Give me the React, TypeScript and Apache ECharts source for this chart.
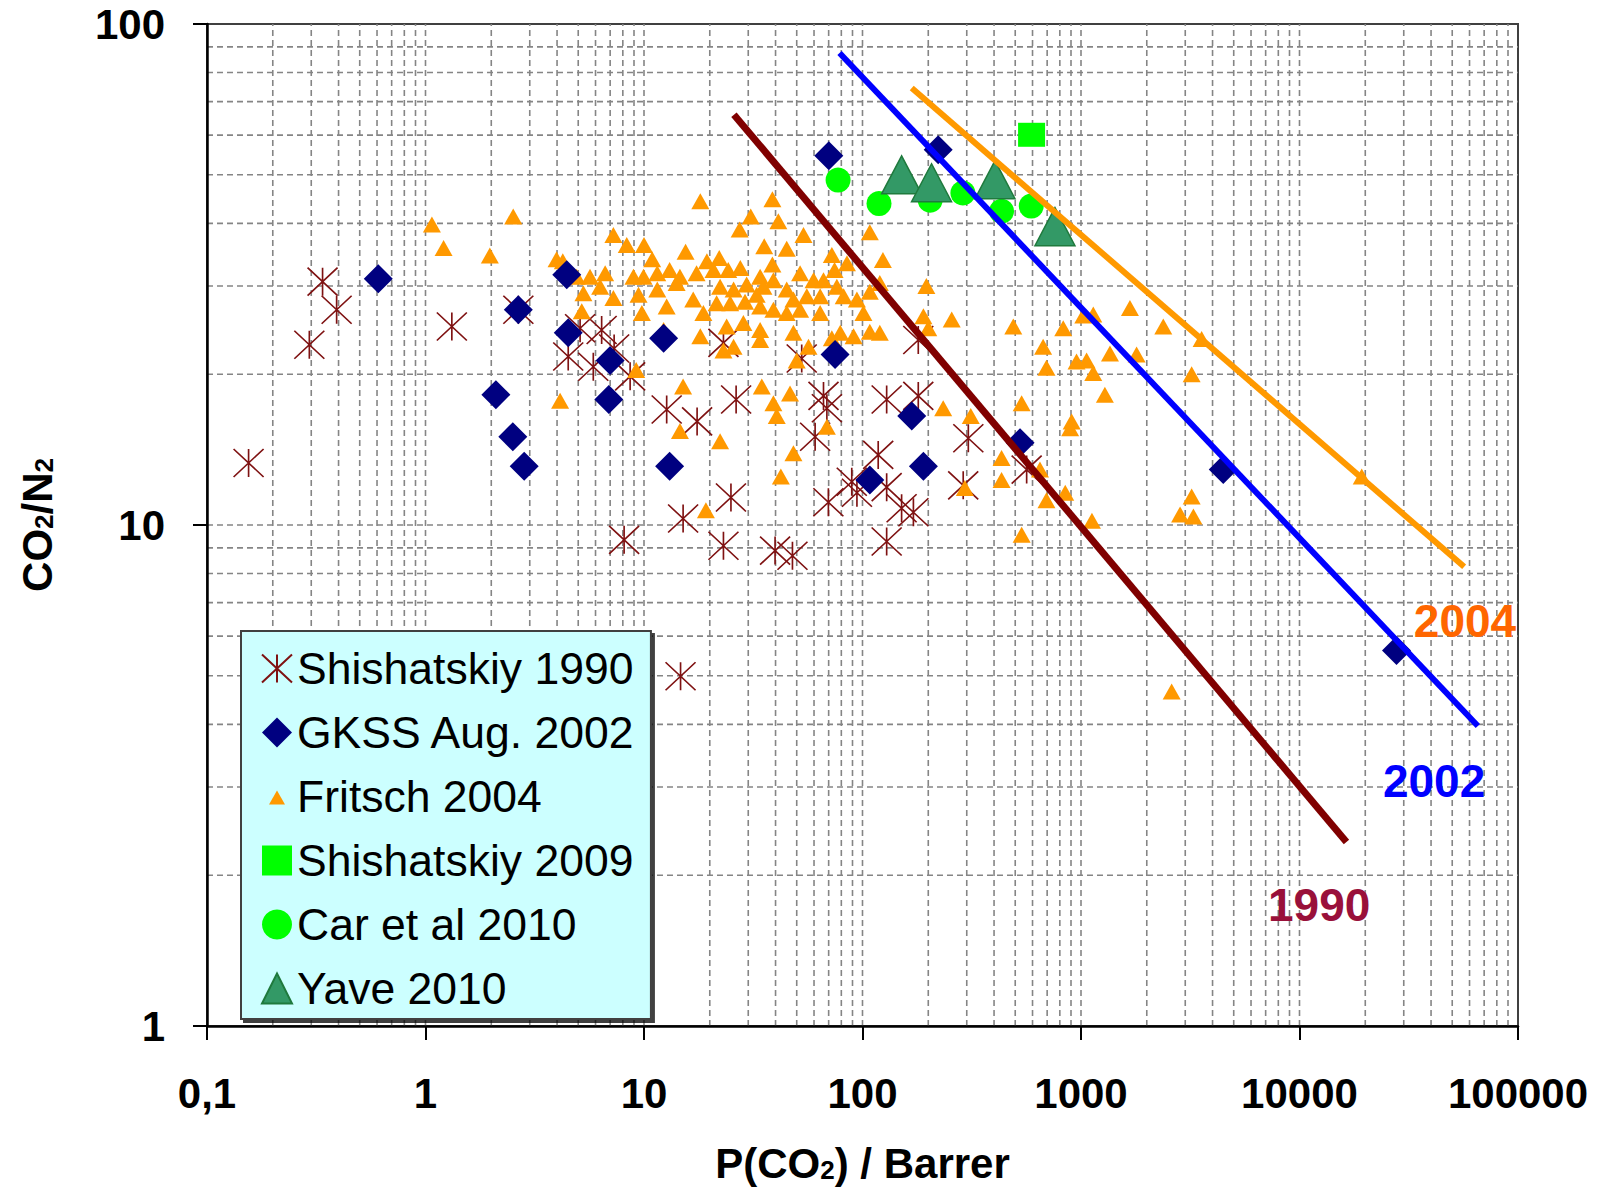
import React, { useEffect, useRef } from "react";
import * as echarts from "echarts";

// P(CO2) in Barrer vs. CO2/N2 selectivity
const shishatskiy1990: [number, number][] = [
  [0.155, 13.3], [0.338, 30.6], [0.392, 26.9], [0.294, 22.9], [1.32, 24.9], [2.66, 26.9],
  [4.5, 21.7], [5.1, 24.7], [6.4, 24.5], [5.86, 20.7], [7.3, 22.5], [8.64, 19.8],
  [12.7, 17.0], [17.5, 16.1], [26.4, 17.8], [23.1, 23.1], [52.7, 21.5], [66.3, 18.1],
  [68.7, 17.1], [60.7, 15.0], [129, 17.8], [118, 13.8], [89.3, 12.2], [94.3, 11.6],
  [69.8, 11.1], [8.11, 9.34], [15.1, 10.3], [25.0, 11.35], [23.1, 9.09], [39.8, 8.89],
  [47.8, 8.68], [14.7, 4.99], [305, 14.9], [289, 12.0], [564, 12.9], [180, 18.1],
  [151, 10.8], [171, 10.6], [129, 9.27], [180, 23.4], [129, 11.9],
];

const gkss2002: [number, number][] = [
  [0.608, 31.0], [2.66, 26.9], [4.5, 24.2], [4.43, 31.6], [2.1, 18.2], [2.51, 15.0],
  [2.83, 13.1], [7.0, 21.3], [6.9, 17.8], [12.3, 23.6], [13.1, 13.1], [74.9, 21.9],
  [70.1, 54.6], [222, 56.1], [168, 16.5], [190, 13.1], [108, 12.3], [526, 14.6],
  [4477, 12.9], [27800, 5.62],
];

const fritsch2004: [number, number][] = [
  [1.07, 39.8], [1.21, 35.7], [2.52, 41.3], [1.97, 34.5], [3.98, 33.9], [4.13, 17.7],
  [18.1, 44.3], [38.7, 44.7], [30.8, 41.3], [41.2, 40.4], [27.4, 38.9], [53.7, 37.9],
  [7.24, 37.9], [8.34, 36.2], [10.0, 36.2], [15.5, 35.1], [35.5, 36.0], [45.0, 35.6],
  [108, 38.4], [72.4, 34.6], [124, 33.8], [10.9, 33.9], [19.4, 33.6], [22.1, 34.1],
  [38.7, 33.1], [74.5, 32.3], [84.9, 33.3], [4.25, 33.6], [4.92, 31.3], [5.66, 31.3],
  [6.64, 31.8], [6.3, 29.9], [8.95, 31.3], [9.95, 31.3], [11.5, 31.8], [13.1, 32.3],
  [14.6, 31.3], [17.4, 31.8], [20.8, 32.3], [24.3, 32.3], [27.6, 32.6], [34.0, 31.3],
  [39.1, 30.8], [51.8, 31.8], [59.7, 30.8], [66.3, 30.8], [76.3, 29.9], [5.28, 29.0],
  [7.24, 28.4], [9.44, 28.8], [11.5, 29.5], [14.1, 30.4], [22.3, 29.9], [25.7, 29.5],
  [29.5, 30.2], [32.8, 28.8], [35.2, 29.9], [45.0, 29.5], [48.3, 28.2], [55.6, 28.6],
  [64.0, 28.6], [82.0, 28.6], [94.3, 28.2], [108, 29.2], [120, 30.4], [5.19, 26.7],
  [9.78, 26.5], [12.7, 27.3], [16.8, 28.2], [18.7, 26.5], [21.5, 27.7], [24.8, 27.7],
  [29.0, 27.9], [34.0, 27.3], [39.1, 26.9], [45.0, 26.5], [51.8, 26.9], [64.0, 26.5],
  [101, 26.5], [23.9, 24.9], [28.5, 25.3], [34.0, 24.5], [48.3, 24.2], [79.1, 24.2],
  [91.0, 23.8], [108, 24.3], [120, 24.2], [12.3, 24.5], [18.1, 23.8], [34.0, 23.4],
  [25.7, 22.7], [23.1, 22.3], [56.6, 22.7], [72.4, 23.6], [50.0, 21.3], [9.21, 20.4],
  [15.1, 18.9], [34.6, 18.9], [46.6, 18.3], [39.1, 17.5], [40.5, 16.5], [68.7, 15.7],
  [14.6, 15.4], [22.3, 14.7], [48.3, 13.9], [42.3, 12.5], [19.2, 10.7],
  [196, 30.0], [190, 26.1], [200, 24.7], [256, 25.7], [490, 24.9], [829, 24.7],
  [1024, 26.2], [1138, 26.3], [1675, 27.1], [2380, 24.9], [3564, 23.5], [671, 22.7],
  [695, 20.6], [954, 21.2], [1061, 21.3], [1138, 20.1], [1357, 22.0], [1797, 21.9],
  [3209, 20.0], [1286, 18.2], [234, 17.1], [313, 16.5], [535, 17.5], [906, 16.1],
  [892, 15.6], [433, 13.6], [433, 12.3], [294, 11.86], [649, 12.9], [695, 11.2],
  [847, 11.6], [1122, 10.2], [535, 9.56], [3209, 11.4], [2841, 10.5], [3270, 10.4],
  [19260, 12.5], [2600, 4.65],
];

const shishatskiy2009: [number, number][] = [[594, 60.1]];

const car2010: [number, number][] = [
  [77.3, 48.8], [119, 43.8], [204, 44.5], [288, 46.0], [433, 42.3], [592, 43.3],
];

const yave2010: [number, number][] = [
  [151, 50.0], [207, 48.2], [404, 48.9], [760, 39.4],
];

// Upper bound lines (end points)
const bound1990: [number, number][] = [[25.8, 65.9], [16400, 2.33]];
const bound2002: [number, number][] = [[78.5, 87.5], [65500, 3.97]];
const bound2004: [number, number][] = [[168, 74.5], [56700, 8.25]];

// Where each bound's year is written (data coordinates)
const label1990: [number, number] = [12300, 1.74];
const label2002: [number, number] = [41300, 3.09];
const label2004: [number, number] = [57200, 6.44];

const X_MIN = 0.1;
const X_MAX = 100000;
const Y_MIN = 1;
const Y_MAX = 100;

const FONT = "'Liberation Sans', Arial, sans-serif";

// Dashed log grid: every 1..9 multiple of each decade, inside the frame
function logGridValues(min: number, max: number): number[] {
  const out: number[] = [];
  const e0 = Math.round(Math.log10(min));
  const e1 = Math.round(Math.log10(max));
  for (let e = e0; e < e1; e++) {
    for (let m = 1; m <= 9; m++) {
      if (e === e0 && m === 1) continue;
      out.push(Number((m * Math.pow(10, e)).toPrecision(6)));
    }
  }
  return out;
}

const ASTERISK = "path://M0 0L30 28M30 0L0 28M15 0L15 28";
const SMALL_TRIANGLE_ICON = "path://M0 0M30 30M7 23L23 23L15 9Z";

function boundLine(name: string, data: [number, number][], color: string, width: number, at: [number, number], labelColor: string) {
  return {
    name,
    type: "line",
    data,
    z: 5,
    symbol: "none",
    silent: true,
    lineStyle: { color, width, cap: "butt" },
    markPoint: {
      symbol: "rect",
      symbolSize: 1,
      silent: true,
      itemStyle: { color: "rgba(0,0,0,0)" },
      label: {
        show: true,
        position: "inside",
        formatter: name,
        fontSize: 46,
        fontWeight: "bold",
        fontFamily: FONT,
        color: labelColor,
      },
      data: [{ coord: at }],
    },
  };
}

const subStyle = {
  fontSize: 26,
  fontWeight: "bold",
  fontFamily: FONT,
  color: "#000",
  verticalAlign: "bottom",
  lineHeight: 40,
};

export default function App() {
  const ref = useRef<HTMLDivElement>(null);

  useEffect(() => {
    if (!ref.current) return;
    const chart = echarts.init(ref.current, null, { renderer: "svg" });

    const gridData: number[][] = [
      ...logGridValues(X_MIN, X_MAX).map((v) => [v, 10, 0]),
      ...logGridValues(Y_MIN, Y_MAX).map((v) => [1, v, 1]),
    ];

    const option: any = {
      animation: false,
      backgroundColor: "#ffffff",
      textStyle: { fontFamily: FONT },
      grid: {
        left: 207,
        right: 83,
        top: 24,
        bottom: 161,
        containLabel: false,
        outerBoundsMode: "none",
        show: true,
        borderColor: "#404040",
        borderWidth: 2,
        backgroundColor: "transparent",
      },
      xAxis: {
        type: "log",
        logBase: 10,
        min: X_MIN,
        max: X_MAX,
        axisLine: { show: true, lineStyle: { color: "#000", width: 2.5 } },
        axisTick: { show: true, length: 14, inside: false, lineStyle: { color: "#000", width: 2 } },
        splitLine: { show: false },
        minorTick: { show: false },
        axisLabel: {
          showMinLabel: true,
          showMaxLabel: true,
          margin: 46,
          fontSize: 42,
          fontWeight: "bold",
          fontFamily: FONT,
          color: "#000",
          formatter: (v: number) => (v < 1 ? "0,1" : String(Math.round(v))),
        },
        name: "P(CO{s|2}) / Barrer",
        nameLocation: "middle",
        nameGap: 117,
        nameTextStyle: {
          fontSize: 42,
          lineHeight: 40,
          fontWeight: "bold",
          fontFamily: FONT,
          color: "#000",
          rich: { s: subStyle },
        },
      },
      yAxis: {
        type: "log",
        logBase: 10,
        min: Y_MIN,
        max: Y_MAX,
        axisLine: { show: true, lineStyle: { color: "#000", width: 2.5 } },
        axisTick: { show: true, length: 14, inside: false, lineStyle: { color: "#000", width: 2 } },
        splitLine: { show: false },
        axisLabel: {
          showMinLabel: true,
          showMaxLabel: true,
          margin: 42,
          fontSize: 42,
          fontWeight: "bold",
          fontFamily: FONT,
          color: "#000",
          formatter: (v: number) => String(Math.round(v)),
        },
        name: "CO{s|2}/N{s|2}",
        nameLocation: "middle",
        nameRotate: 90,
        nameGap: 150,
        nameTextStyle: {
          fontSize: 42,
          lineHeight: 40,
          fontWeight: "bold",
          fontFamily: FONT,
          color: "#000",
          rich: { s: subStyle },
        },
      },
      legend: {
        orient: "vertical",
        left: 241,
        top: 631,
        selectedMode: false,
        itemWidth: 30,
        itemHeight: 30,
        itemGap: 19,
        padding: [15, 15, 8, 20],
        backgroundColor: "#CCFFFF",
        borderColor: "#404040",
        borderWidth: 2,
        borderRadius: 0,
        shadowColor: "rgba(0,0,0,0.75)",
        shadowBlur: 0,
        shadowOffsetX: 3,
        shadowOffsetY: 3,
        textStyle: { fontSize: 44.5, lineHeight: 44, fontFamily: FONT, color: "#000" },
        data: [
          { name: "Shishatskiy 1990" },
          { name: "GKSS Aug. 2002" },
          { name: "Fritsch 2004", icon: SMALL_TRIANGLE_ICON },
          { name: "Shishatskiy 2009" },
          { name: "Car et al 2010" },
          { name: "Yave 2010" },
        ],
      },
      series: [
        {
          name: "grid",
          type: "custom",
          silent: true,
          z: 0,
          data: gridData,
          encode: { x: 0, y: 1 },
          renderItem: (_params: any, api: any) => {
            const kind = api.value(2);
            let p1: number[];
            let p2: number[];
            if (kind === 0) {
              const v = api.value(0);
              p1 = api.coord([v, Y_MIN]);
              p2 = api.coord([v, Y_MAX]);
            } else {
              const v = api.value(1);
              p1 = api.coord([X_MIN, v]);
              p2 = api.coord([X_MAX, v]);
            }
            return {
              type: "line",
              shape: { x1: p1[0], y1: p1[1], x2: p2[0], y2: p2[1] },
              style: { stroke: "#858585", lineWidth: 1.6, lineDash: [6, 4] },
            };
          },
        },
        {
          name: "Shishatskiy 1990",
          type: "scatter",
          z: 2,
          data: shishatskiy1990,
          symbol: ASTERISK,
          symbolSize: [30, 28],
          itemStyle: { color: "rgba(0,0,0,0)", borderColor: "#7F1212", borderWidth: 1.6, opacity: 1 },
        },
        {
          name: "Fritsch 2004",
          type: "scatter",
          z: 2,
          data: fritsch2004,
          symbol: "triangle",
          symbolSize: [18, 16],
          itemStyle: { color: "#FF9900", opacity: 1 },
        },
        {
          name: "GKSS Aug. 2002",
          type: "scatter",
          z: 3,
          data: gkss2002,
          symbol: "diamond",
          symbolSize: [29, 29],
          itemStyle: { color: "#000080", opacity: 1 },
        },
        {
          name: "Shishatskiy 2009",
          type: "scatter",
          z: 3,
          data: shishatskiy2009,
          symbol: "rect",
          symbolSize: [27, 24],
          itemStyle: { color: "#00FF00", opacity: 1 },
        },
        {
          name: "Car et al 2010",
          type: "scatter",
          z: 3,
          data: car2010,
          symbol: "circle",
          symbolSize: 25,
          itemStyle: { color: "#00FF00", opacity: 1 },
        },
        {
          name: "Yave 2010",
          type: "scatter",
          z: 3,
          data: yave2010,
          symbol: "triangle",
          symbolSize: [40, 38],
          itemStyle: { color: "#339966", borderColor: "#1F7A3D", borderWidth: 1.5, opacity: 1 },
        },
        boundLine("1990", bound1990, "#800000", 7, label1990, "#99103A"),
        boundLine("2002", bound2002, "#0000FF", 6, label2002, "#0000FF"),
        boundLine("2004", bound2004, "#FF9900", 6, label2004, "#FF6600"),
      ],
    };

    chart.setOption(option);
    return () => chart.dispose();
  }, []);

  return (
    <div
      ref={ref}
      style={{ position: "fixed", left: 0, top: 0, width: 1601, height: 1187, background: "#fff" }}
    />
  );
}
